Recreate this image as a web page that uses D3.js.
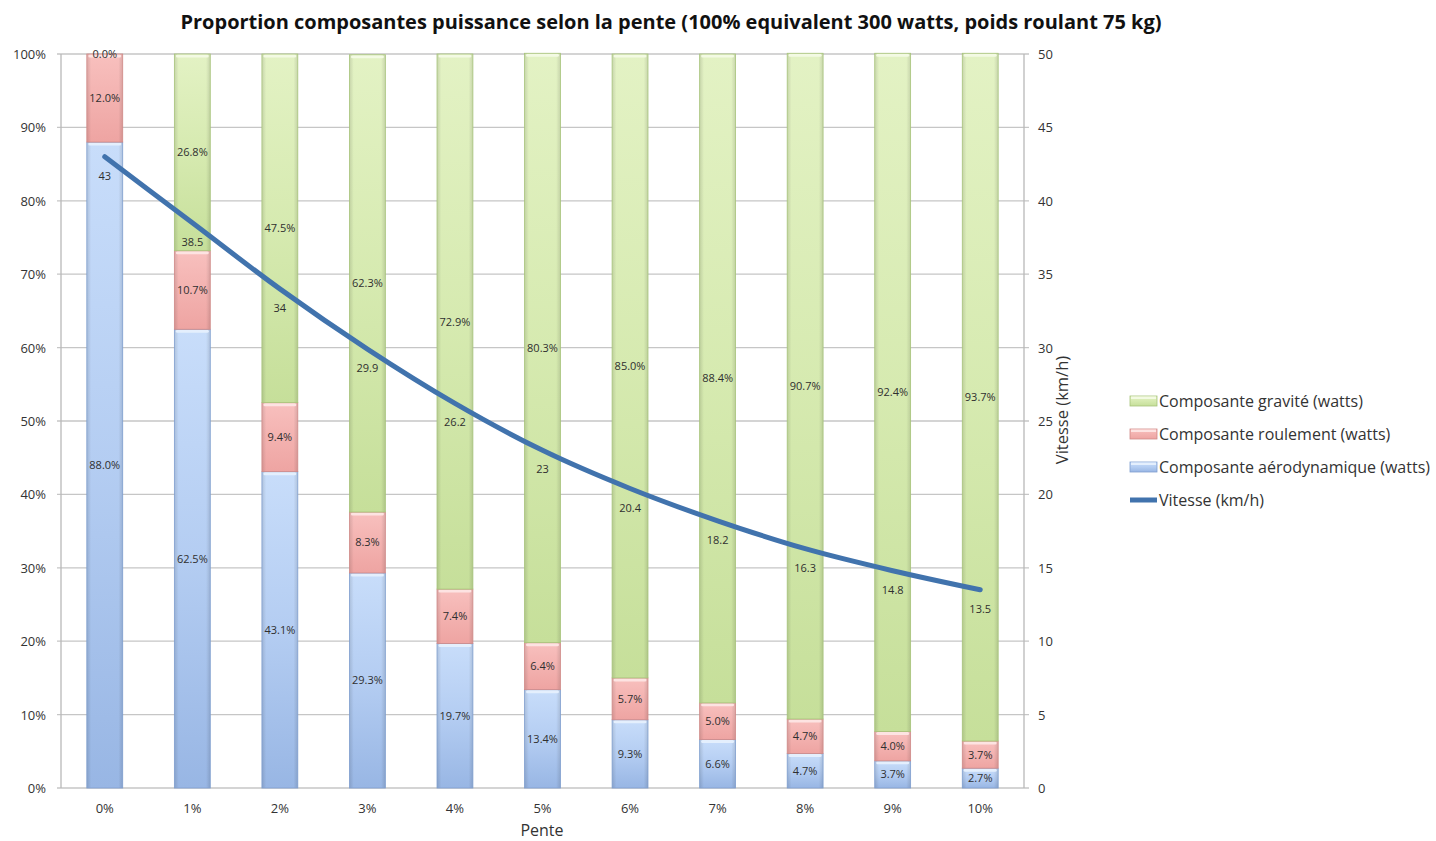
<!DOCTYPE html>
<html>
<head>
<meta charset="utf-8">
<script src="https://cdn.jsdelivr.net/npm/d3@7"></script>
<style>
  html, body { margin: 0; padding: 0; background: #fff; }
  svg { display: block; font-family: "Open Sans", "Liberation Sans", sans-serif; }
</style>
</head>
<body>
<svg id="chart" width="1436" height="841"></svg>
<script>
// Slope categories and power shares (percent of 300 W)
const pentes = ["0%", "1%", "2%", "3%", "4%", "5%", "6%", "7%", "8%", "9%", "10%"];
const aero     = [88.0, 62.5, 43.1, 29.3, 19.7, 13.4, 9.3, 6.6, 4.7, 3.7, 2.7];
const roulement = [12.0, 10.7, 9.4, 8.3, 7.4, 6.4, 5.7, 5.0, 4.7, 4.0, 3.7];
const gravite  = [0.0, 26.8, 47.5, 62.3, 72.9, 80.3, 85.0, 88.4, 90.7, 92.4, 93.7];
const vitesse  = [43, 38.5, 34, 29.9, 26.2, 23, 20.4, 18.2, 16.3, 14.8, 13.5];
const leftTicks = [0, 10, 20, 30, 40, 50, 60, 70, 80, 90, 100];
const rightTicks = [0, 5, 10, 15, 20, 25, 30, 35, 40, 45, 50];

const series = [
  { key: "aero", name: "Composante aérodynamique (watts)", values: aero, grad: "gBlue", stroke: "#7f9fcf", hi: "#e4effd" },
  { key: "roul", name: "Composante roulement (watts)", values: roulement, grad: "gRed", stroke: "#d08a88", hi: "#fde3e2" },
  { key: "grav", name: "Composante gravité (watts)", values: gravite, grad: "gGreen", stroke: "#a7c47a", hi: "#f3fae3" }
];

const svg = d3.select("#chart");
const m = { left: 61, right: 1024, top: 54, bottom: 788 };

const x = d3.scaleBand().domain(pentes).range([m.left, m.right]).paddingInner(0.59).paddingOuter(0.295);
const y = d3.scaleLinear().domain([0, 100]).range([m.bottom, m.top]);
const y2 = d3.scaleLinear().domain([0, 50]).range([m.bottom, m.top]);

// gradients for the bar segments
const defs = svg.append("defs");
function vgrad(id, stops) {
  const g = defs.append("linearGradient").attr("id", id).attr("x1", 0).attr("y1", 0).attr("x2", 0).attr("y2", 1);
  stops.forEach(s => g.append("stop").attr("offset", s[0]).attr("stop-color", s[1]));
}
vgrad("gBlue", [[0, "#c8ddfa"], [0.5, "#b4cdf2"], [1, "#98b6e4"]]);
vgrad("gRed", [[0, "#f8c0be"], [1, "#eea4a2"]]);
vgrad("gGreen", [[0, "#e3f2c4"], [0.5, "#d6eab0"], [1, "#c6df9a"]]);
const side = defs.append("linearGradient").attr("id", "gSide").attr("x1", 0).attr("y1", 0).attr("x2", 1).attr("y2", 0);
[[0, 0.12], [0.12, 0], [0.88, 0], [1, 0.12]].forEach(s =>
  side.append("stop").attr("offset", s[0]).attr("stop-color", "#000").attr("stop-opacity", s[1]));

// horizontal gridlines
svg.append("g").selectAll("line").data(leftTicks).join("line")
  .attr("x1", m.left - 4).attr("x2", m.right + 5)
  .attr("y1", d => y(d)).attr("y2", d => y(d))
  .attr("stroke", "#c6c6c6").attr("stroke-width", 1.3);

// axis lines
svg.append("line").attr("x1", m.left).attr("x2", m.left).attr("y1", m.top).attr("y2", m.bottom)
  .attr("stroke", "#b8b8b8").attr("stroke-width", 1.3);
svg.append("line").attr("x1", m.right).attr("x2", m.right).attr("y1", m.top).attr("y2", m.bottom)
  .attr("stroke", "#b8b8b8").attr("stroke-width", 1.3);

// stacked data
const rows = pentes.map((p, i) => ({ pente: p, aero: aero[i], roul: roulement[i], grav: gravite[i] }));
const stacked = d3.stack().keys(series.map(s => s.key))(rows);

const barsG = svg.append("g");
stacked.forEach((layer, li) => {
  const s = series[li];
  const g = barsG.append("g");
  layer.forEach((d, i) => {
    const x0 = x(pentes[i]), w = x.bandwidth();
    const yt = y(d[1]), yb = y(d[0]);
    const h = yb - yt;
    if (h <= 0.01) return;
    g.append("rect").attr("x", x0).attr("y", yt).attr("width", w).attr("height", h)
      .attr("fill", `url(#${s.grad})`);
    g.append("rect").attr("x", x0).attr("y", yt).attr("width", w).attr("height", h)
      .attr("fill", "url(#gSide)");
    // top highlight
    g.append("rect").attr("x", x0 + 1.5).attr("y", yt + 0.5).attr("width", w - 3).attr("height", Math.min(3, h))
      .attr("fill", s.hi).attr("rx", 1.5);
    g.append("rect").attr("x", x0).attr("y", yt).attr("width", w).attr("height", h)
      .attr("fill", "none").attr("stroke", s.stroke).attr("stroke-width", 0.8);
  });
});

// segment labels
const labG = svg.append("g").attr("font-size", 11).attr("fill", "#2f2f2f").attr("text-anchor", "middle");
stacked.forEach((layer, li) => {
  layer.forEach((d, i) => {
    const v = series[li].values[i];
    labG.append("text")
      .attr("x", x(pentes[i]) + x.bandwidth() / 2)
      .attr("y", (y(d[0]) + y(d[1])) / 2 + 4)
      .text(v.toFixed(1) + "%");
  });
});

// speed line
const cx = p => x(p) + x.bandwidth() / 2;
const line = d3.line().x((d, i) => cx(pentes[i])).y(d => y2(d)).curve(d3.curveMonotoneX);
svg.append("path").datum(vitesse).attr("d", line)
  .attr("fill", "none").attr("stroke", "#4173ad").attr("stroke-width", 5).attr("stroke-linecap", "round");

// speed labels under the points
svg.append("g").attr("font-size", 11).attr("fill", "#2f2f2f").attr("text-anchor", "middle")
  .selectAll("text").data(vitesse).join("text")
  .attr("x", (d, i) => cx(pentes[i]))
  .attr("y", d => y2(d) + 23)
  .text(d => d);

// left axis labels
svg.append("g").attr("font-size", 13).attr("fill", "#333").attr("text-anchor", "end")
  .selectAll("text").data(leftTicks).join("text")
  .attr("x", 46).attr("y", d => y(d) + 5).text(d => d + "%");

// right axis labels
svg.append("g").attr("font-size", 13).attr("fill", "#333").attr("text-anchor", "start")
  .selectAll("text").data(rightTicks).join("text")
  .attr("x", 1038).attr("y", d => y2(d) + 5).text(d => d);

// category labels
svg.append("g").attr("font-size", 13).attr("fill", "#333").attr("text-anchor", "middle")
  .selectAll("text").data(pentes).join("text")
  .attr("x", d => cx(d)).attr("y", 813).text(d => d);

// axis titles
svg.append("text").attr("x", 542).attr("y", 836).attr("text-anchor", "middle")
  .attr("font-size", 16).attr("fill", "#333").text("Pente");
svg.append("text").attr("transform", "translate(1068,410) rotate(-90)").attr("text-anchor", "middle")
  .attr("font-size", 16.5).attr("fill", "#333").text("Vitesse (km/h)");

// title
svg.append("text").attr("x", 671).attr("y", 29).attr("text-anchor", "middle")
  .attr("font-size", 19).attr("font-weight", "bold").attr("fill", "#111")
  .attr("textLength", 981).attr("lengthAdjust", "spacingAndGlyphs")
  .text("Proportion composantes puissance selon la pente (100% equivalent 300 watts, poids roulant 75 kg)");

// legend
const legend = svg.append("g").attr("font-size", 16).attr("fill", "#333");
const legItems = [series[2], series[1], series[0]];
legItems.forEach((s, i) => {
  const ly = 401 + i * 33;
  legend.append("rect").attr("x", 1130).attr("y", ly - 5).attr("width", 27).attr("height", 10)
    .attr("fill", `url(#${s.grad})`).attr("stroke", s.stroke).attr("stroke-width", 0.8);
  legend.append("rect").attr("x", 1131).attr("y", ly - 4.5).attr("width", 25).attr("height", 2.5).attr("fill", s.hi);
  legend.append("text").attr("x", 1159).attr("y", ly + 6).text(s.name);
});
legend.append("line").attr("x1", 1130).attr("x2", 1157).attr("y1", 500).attr("y2", 500)
  .attr("stroke", "#4173ad").attr("stroke-width", 5);
legend.append("text").attr("x", 1159).attr("y", 506).text("Vitesse (km/h)");
</script>
</body>
</html>
